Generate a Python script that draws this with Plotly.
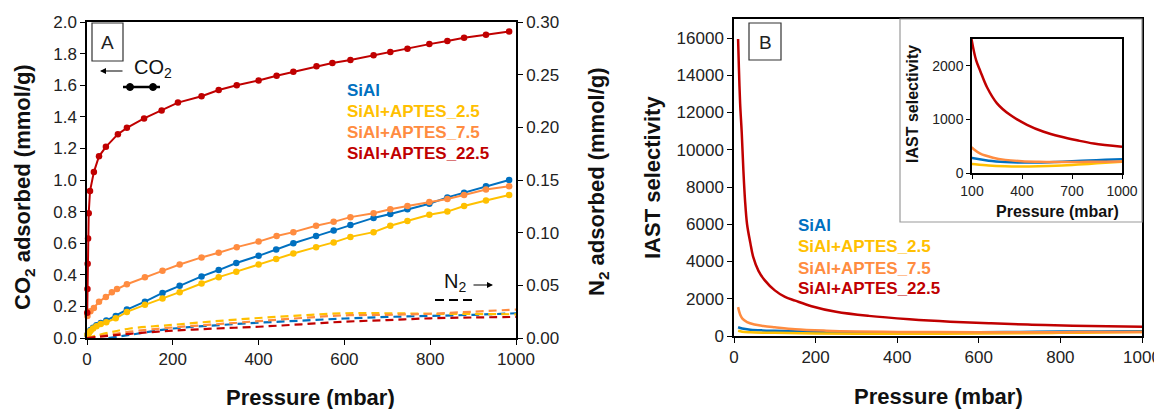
import plotly.graph_objects as go

OFF = 8  # page body margin of the browser
W, H = 1162 - OFF, 409 - OFF
FONT = "Arial, Liberation Sans, sans-serif"

names = ["SiAl", "SiAl+APTES_2.5", "SiAl+APTES_7.5", "SiAl+APTES_22.5"]
colors = ["#0070C0", "#FFC000", "#FF8C40", "#C00000"]

# ---- Panel A: CO2 isotherms (mmol/g) ----
p_blue = [1, 4, 8, 14, 22, 32, 45, 67, 93, 135, 176, 216, 267, 307, 348, 400, 441, 481, 534, 575, 614, 668, 707, 747, 798, 840, 879, 930, 984]
co2_blue = [0.02, 0.035, 0.05, 0.065, 0.08, 0.095, 0.11, 0.14, 0.18, 0.23, 0.285, 0.33, 0.39, 0.43, 0.475, 0.52, 0.56, 0.60, 0.645, 0.68, 0.715, 0.76, 0.785, 0.815, 0.85, 0.89, 0.92, 0.96, 1.0]
p_yel = [1, 4, 8, 14, 22, 32, 45, 67, 93, 135, 176, 216, 267, 307, 348, 400, 441, 481, 534, 575, 614, 668, 707, 747, 798, 840, 879, 930, 984]
co2_yel = [0.02, 0.03, 0.045, 0.06, 0.075, 0.088, 0.10, 0.125, 0.165, 0.21, 0.25, 0.29, 0.345, 0.385, 0.42, 0.465, 0.50, 0.535, 0.575, 0.605, 0.64, 0.67, 0.71, 0.74, 0.78, 0.80, 0.835, 0.87, 0.905]
p_ora = [1, 8, 16, 28, 44, 58, 70, 93, 135, 176, 216, 267, 307, 349, 400, 442, 481, 534, 575, 614, 668, 707, 747, 798, 840, 879, 930, 984]
co2_ora = [0.14, 0.17, 0.19, 0.23, 0.26, 0.29, 0.31, 0.34, 0.385, 0.425, 0.465, 0.51, 0.54, 0.575, 0.61, 0.645, 0.67, 0.71, 0.735, 0.765, 0.79, 0.815, 0.835, 0.86, 0.88, 0.905, 0.94, 0.96]
p_red = [0.5, 1, 1.5, 2.5, 4, 7, 16, 28, 44, 72, 93, 133, 174, 212, 267, 307, 349, 400, 442, 481, 535, 572, 614, 668, 707, 747, 798, 840, 879, 930, 984]
co2_red = [0.16, 0.31, 0.47, 0.63, 0.79, 0.93, 1.05, 1.15, 1.21, 1.29, 1.33, 1.39, 1.44, 1.49, 1.53, 1.57, 1.60, 1.63, 1.66, 1.685, 1.72, 1.74, 1.76, 1.79, 1.81, 1.83, 1.86, 1.88, 1.90, 1.92, 1.94]

# ---- Panel A: N2 isotherms (mmol/g, right axis) ----
p_n2 = [0, 50, 100, 200, 300, 400, 500, 600, 700, 800, 900, 1000]
n2_blue = [None, 0.0, 0.003, 0.009, 0.012, 0.0145, 0.0165, 0.0185, 0.020, 0.021, 0.022, 0.0235]
n2_yel = [0, 0.005, 0.009, 0.0125, 0.016, 0.019, 0.0215, 0.0235, 0.0235, 0.023, 0.0228, 0.0225]
n2_ora = [0, 0.003, 0.006, 0.010, 0.013, 0.016, 0.019, 0.0215, 0.022, 0.023, 0.025, 0.027]
n2_red = [0, 0.002, 0.004, 0.007, 0.009, 0.0107, 0.013, 0.0155, 0.017, 0.0187, 0.0195, 0.020]

# ---- Panel B: IAST selectivity ----
p_s_blue = [10, 20, 40, 70, 100, 200, 300, 400, 500, 600, 700, 800, 900, 1000]
s_blue = [470, 400, 340, 300, 280, 230, 205, 195, 195, 205, 220, 235, 245, 255]
p_s_yel = [10, 20, 40, 70, 100, 200, 300, 400, 500, 600, 700, 800, 900, 1000]
s_yel = [280, 230, 200, 180, 170, 140, 125, 120, 125, 135, 150, 170, 190, 210]
p_s_ora = [10, 15, 20, 32, 50, 72, 100, 150, 226, 300, 400, 500, 600, 700, 800, 900, 1000]
s_ora = [1550, 1150, 950, 750, 620, 540, 470, 360, 285, 245, 220, 210, 205, 205, 208, 212, 215]
p_s_red = [10, 12, 15, 19, 23, 27, 32, 40, 47, 60, 75, 100, 125, 150, 190, 250, 330, 430, 530, 630, 730, 830, 1000]
s_red = [15950, 14400, 12500, 10900, 8900, 7300, 6000, 5000, 4250, 3500, 3000, 2450, 2100, 1900, 1600, 1300, 1080, 900, 770, 680, 610, 550, 490]


def px(x):
    return (x - OFF) / W


def py(y):
    return 1 - (y - OFF) / H


fig = go.Figure()

co2_sets = [(p_blue, co2_blue), (p_yel, co2_yel), (p_ora, co2_ora), (p_red, co2_red)]
n2_sets = [n2_blue, n2_yel, n2_ora, n2_red]
sel_sets = [(p_s_blue, s_blue), (p_s_yel, s_yel), (p_s_ora, s_ora), (p_s_red, s_red)]

# N2 dashed (right axis)
for i, n2 in enumerate(n2_sets):
    fig.add_trace(go.Scatter(x=p_n2, y=n2, mode="lines", xaxis="x", yaxis="y2",
                             line=dict(color=colors[i], width=2.2, dash="8px,5px", shape="spline"),
                             showlegend=False, connectgaps=False))
# CO2 with markers
for i, (pp, vv) in enumerate(co2_sets):
    fig.add_trace(go.Scatter(x=pp, y=vv, mode="lines+markers", xaxis="x", yaxis="y",
                             line=dict(color=colors[i], width=2),
                             marker=dict(color=colors[i], size=6.5),
                             showlegend=False, cliponaxis=False))
# Selectivity main + inset
for i, (pp, vv) in enumerate(sel_sets):
    fig.add_trace(go.Scatter(x=pp, y=vv, mode="lines", xaxis="x3", yaxis="y3",
                             line=dict(color=colors[i], width=2.5, shape="spline"),
                             showlegend=False))
for i, (pp, vv) in enumerate(sel_sets):
    fig.add_trace(go.Scatter(x=pp, y=vv, mode="lines", xaxis="x4", yaxis="y4",
                             line=dict(color=colors[i], width=2.5, shape="spline"),
                             showlegend=False))

tickfont = dict(family=FONT, size=17, color="#222")
ax_common = dict(showgrid=False, zeroline=False, showline=True, linecolor="black",
                 linewidth=1.5, ticks="outside", ticklen=5, tickcolor="black",
                 tickfont=tickfont, automargin=False)
ax_inset = dict(showgrid=False, zeroline=False, showline=True, linecolor="black",
                linewidth=1.5, ticks="outside", ticklen=4, tickcolor="black",
                tickfont=dict(family=FONT, size=14, color="#222"), automargin=False,
                mirror=True)

fig.update_layout(
    width=W, height=H,
    margin=dict(l=0, r=0, t=0, b=0),
    paper_bgcolor="white", plot_bgcolor="rgba(0,0,0,0)",
    font=dict(family=FONT, color="black"),
    xaxis=dict(domain=[px(87), px(516)], range=[0, 1000], dtick=200, anchor="y",
               mirror=True, **ax_common),
    yaxis=dict(domain=[py(338), py(22)], range=[0, 2.0], dtick=0.2, tickformat=".1f",
               anchor="x", **ax_common),
    yaxis2=dict(range=[0, 0.30], dtick=0.05, tickformat=".2f", overlaying="y",
                side="right", anchor="x", **ax_common),
    xaxis3=dict(domain=[px(734), px(1142)], range=[0, 1000], dtick=200, anchor="y3",
                mirror=True, **ax_common),
    yaxis3=dict(domain=[py(336), py(19)], range=[0, 17020], dtick=2000, tickformat="d",
                anchor="x3", mirror=True, **ax_common),
    xaxis4=dict(domain=[px(972), px(1122)], range=[100, 1000], tickvals=[100, 400, 700, 1000],
                anchor="y4", **ax_inset),
    yaxis4=dict(domain=[py(173), py(39)], range=[0, 2500], tickvals=[0, 1000, 2000],
                tickformat="d", anchor="x4", **ax_inset),
)

shapes = []
# inset outer box (gray)
shapes.append(dict(type="rect", xref="paper", yref="paper", x0=px(900), x1=px(1142),
                   y0=py(222), y1=py(19), line=dict(color="#9a9a9a", width=1.2), layer="above"))
# panel label boxes
shapes.append(dict(type="rect", xref="paper", yref="paper", x0=px(92), x1=px(123),
                   y0=py(61), y1=py(23), line=dict(color="#333", width=1.2)))
shapes.append(dict(type="rect", xref="paper", yref="paper", x0=px(749), x1=px(781),
                   y0=py(60), y1=py(23), line=dict(color="#333", width=1.2)))
# CO2 key: solid line with two markers
shapes.append(dict(type="line", xref="paper", yref="paper", x0=px(123), x1=px(160),
                   y0=py(87), y1=py(87), line=dict(color="black", width=2.5)))
for cx in (130, 153):
    shapes.append(dict(type="circle", xref="paper", yref="paper", x0=px(cx - 3.5), x1=px(cx + 3.5),
                       y0=py(87 + 3.5), y1=py(87 - 3.5), fillcolor="black", line=dict(color="black", width=1)))
# N2 key: dashed line
shapes.append(dict(type="line", xref="paper", yref="paper", x0=px(435), x1=px(472),
                   y0=py(300), y1=py(300), line=dict(color="black", width=2.2, dash="9px,5px")))
fig.update_layout(shapes=shapes)

ann = []


def txt(x, y, s, size, color="black", angle=0, xanchor="center"):
    ann.append(dict(x=px(x), y=py(y), xref="paper", yref="paper", text=s, showarrow=False,
                    font=dict(family=FONT, size=size, color=color), textangle=angle,
                    xanchor=xanchor, yanchor="middle"))


txt(107.5, 42, "A", 19, "#222")
txt(765, 42, "B", 19, "#222")
txt(153, 68, "CO<sub>2</sub>", 20, "#111")
txt(455, 282, "N<sub>2</sub>", 20, "#111")
# arrows
ann.append(dict(x=px(100), y=py(71), xref="paper", yref="paper", ax=24, ay=0, text="",
                showarrow=True, arrowhead=2, arrowsize=1, arrowwidth=1.2, arrowcolor="black"))
ann.append(dict(x=px(493), y=py(285), xref="paper", yref="paper", ax=-21, ay=0, text="",
                showarrow=True, arrowhead=2, arrowsize=1, arrowwidth=1.2, arrowcolor="black"))

# legends (coloured text)
for i, nm in enumerate(names):
    txt(345, [90, 111, 132, 153][i], "<b>" + nm + "</b>", 17, colors[i], xanchor="left")
    txt(796, [225, 247, 268, 288][i], "<b>" + nm + "</b>", 17, colors[i], xanchor="left")

# axis titles
txt(24, 187, "<b>CO<sub>2</sub> adsorbed (mmol/g)</b>", 22, "#111", angle=-90)
txt(598, 182, "<b>N<sub>2</sub> adsorbed (mmol/g)</b>", 22, "#111", angle=-90)
txt(652, 178, "<b>IAST selectivity</b>", 22, "#111", angle=-90)
txt(310, 397, "<b>Pressure (mbar)</b>", 22, "#111")
txt(938, 396, "<b>Pressure (mbar)</b>", 22, "#111")
txt(913, 104, "<b>IAST selectivity</b>", 16, "#111", angle=-90)
txt(1057, 212, "<b>Pressure (mbar)</b>", 16, "#111")

fig.update_layout(annotations=ann)

fig.write_html("out.html")
